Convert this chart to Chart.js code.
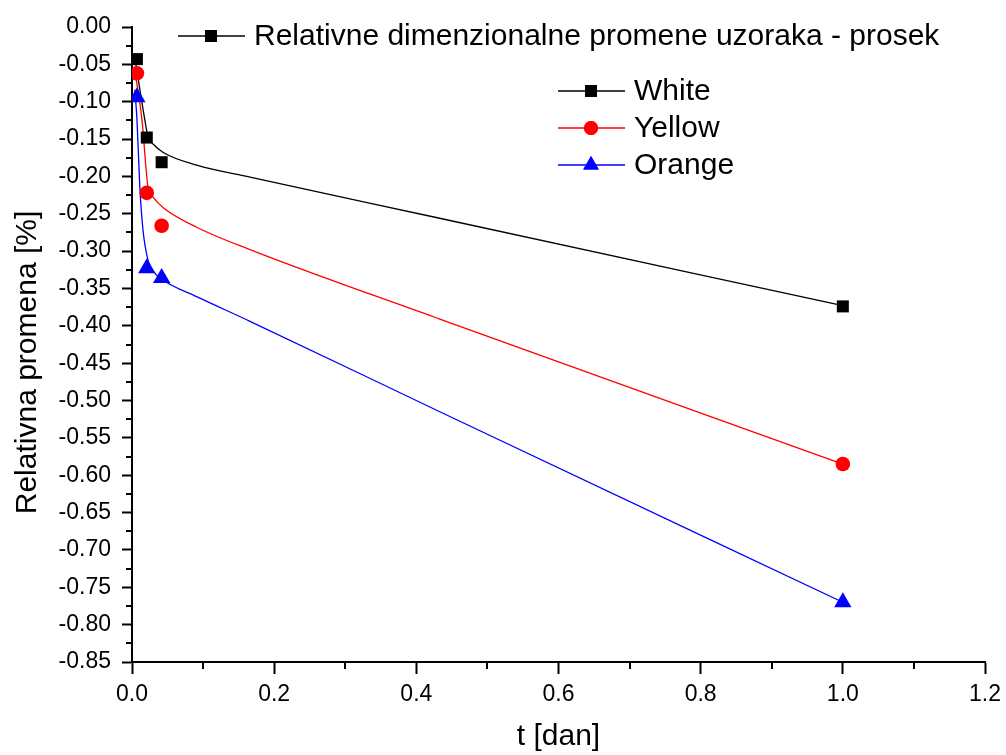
<!DOCTYPE html>
<html>
<head>
<meta charset="utf-8">
<script src="https://cdn.jsdelivr.net/npm/chart.js@4.4.0/dist/chart.umd.min.js"></script>
<style>
  html, body { margin: 0; padding: 0; background: #fff; }
  #wrap { width: 1006px; height: 755px; }
</style>
</head>
<body>
<div id="wrap"><canvas id="chart"></canvas></div>
<script>
// measured points (t in days)
const timeDays = [0.0069, 0.0208, 0.0417, 1.0];
const white  = [-0.043, -0.148, -0.181, -0.374];
const yellow = [-0.062, -0.222, -0.266, -0.585];
const orange = [-0.094, -0.323, -0.336, -0.770];

// fitted curves
const whiteFitX  = [0.004, 0.018, 0.0225, 0.03, 0.044, 0.091, 0.166, 0.423, 1.0];
const whiteFitY  = [-0.041, -0.124, -0.147, -0.157, -0.168, -0.185, -0.201, -0.254, -0.373];
const yellowFitX = [0.004, 0.014, 0.0225, 0.03, 0.044, 0.091, 0.166, 0.433, 1.0];
const yellowFitY = [-0.058, -0.124, -0.214, -0.228, -0.242, -0.268, -0.298, -0.391, -0.585];
const orangeFitX = [0.004, 0.007, 0.011, 0.0155, 0.0225, 0.03, 0.044, 0.091, 0.166, 0.433, 1.0];
const orangeFitY = [-0.084, -0.124, -0.214, -0.272, -0.312, -0.327, -0.339, -0.361, -0.394, -0.515, -0.770];

const seriesNames = ['White', 'Yellow', 'Orange'];
const legendTitle = 'Relativne dimenzionalne promene uzoraka - prosek';
const xTitle = 't [dan]';
const yTitle = 'Relativna promena [%]';

const xTickValues = [0, 0.2, 0.4, 0.6, 0.8, 1.0, 1.2];
const xMinorValues = [0.1, 0.3, 0.5, 0.7, 0.9, 1.1];
const yTickValues = [0, -0.05, -0.10, -0.15, -0.20, -0.25, -0.30, -0.35, -0.40, -0.45,
  -0.50, -0.55, -0.60, -0.65, -0.70, -0.75, -0.80, -0.85];
const yMinorValues = [-0.025, -0.075, -0.125, -0.175, -0.225, -0.275, -0.325, -0.375, -0.425,
  -0.475, -0.525, -0.575, -0.625, -0.675, -0.725, -0.775, -0.825];

const FONT = '"Liberation Sans", Arial, sans-serif';
const colors = ['#000000', '#ff0000', '#0000ff'];
const styles = ['rect', 'circle', 'triangle'];
const radii = [8.5, 7.3, 10];

const pts = (xs, ys) => xs.map((x, i) => ({ x, y: ys[i] }));

const markerSets = [white, yellow, orange].map((vals, i) => ({
  label: seriesNames[i],
  data: pts(timeDays, vals),
  showLine: false,
  pointStyle: styles[i],
  pointRadius: radii[i],
  pointBackgroundColor: colors[i],
  pointBorderWidth: 0,
  borderColor: colors[i],
}));

const fitSets = [[whiteFitX, whiteFitY], [yellowFitX, yellowFitY], [orangeFitX, orangeFitY]].map(([xs, ys], i) => ({
  label: seriesNames[i] + ' fit',
  data: pts(xs, ys),
  showLine: true,
  borderColor: colors[i],
  borderWidth: 1.3,
  pointRadius: 0,
  cubicInterpolationMode: 'monotone',
}));

const minorTicks = {
  id: 'minorTicks',
  afterDraw(chart) {
    const { ctx, scales: { x, y } } = chart;
    ctx.save();
    ctx.strokeStyle = '#000';
    ctx.lineWidth = 2;
    ctx.beginPath();
    xMinorValues.forEach(v => {
      const px = Math.round(x.getPixelForValue(v));
      ctx.moveTo(px, x.top);
      ctx.lineTo(px, x.top + 7);
    });
    yMinorValues.forEach(v => {
      const py = Math.round(y.getPixelForValue(v));
      ctx.moveTo(y.right, py);
      ctx.lineTo(y.right - 6, py);
    });
    ctx.stroke();
    ctx.restore();
  }
};

// y title sits a bit below the axis middle in the original
const yTitlePlugin = {
  id: 'yTitle',
  afterDraw(chart) {
    const ctx = chart.ctx;
    const y = chart.scales.y;
    ctx.save();
    ctx.translate(28, (y.top + y.bottom) / 2 + 18);
    ctx.rotate(-Math.PI / 2);
    ctx.fillStyle = '#000';
    ctx.font = '30px ' + FONT;
    ctx.textAlign = 'center';
    ctx.textBaseline = 'middle';
    ctx.fillText(yTitle, 0, 0);
    ctx.restore();
  }
};

function legendItem(ctx, x, y, color, style, r, text) {
  ctx.strokeStyle = color;
  ctx.lineWidth = 1.3;
  ctx.beginPath();
  ctx.moveTo(x, y);
  ctx.lineTo(x + 67, y);
  ctx.stroke();
  ctx.fillStyle = color;
  Chart.helpers.drawPoint(ctx, { pointStyle: style, radius: r, rotation: 0, borderWidth: 0 }, x + 33, y);
  ctx.fill();
  ctx.fillStyle = '#000';
  ctx.font = '30px ' + FONT;
  ctx.textBaseline = 'middle';
  ctx.textAlign = 'left';
  ctx.fillText(text, x + 76, y + 1);
}

const legends = {
  id: 'legends',
  afterDraw(chart) {
    const ctx = chart.ctx;
    ctx.save();
    legendItem(ctx, 178, 36, '#000', 'rect', 8.5, legendTitle);
    seriesNames.forEach((name, i) => {
      legendItem(ctx, 558, 91 + i * 37, colors[i], styles[i], [8.5, 7, 9][i], name);
    });
    ctx.restore();
  }
};

new Chart(document.getElementById('chart'), {
  type: 'scatter',
  data: { datasets: [...markerSets, ...fitSets] },
  options: {
    responsive: true,
    maintainAspectRatio: false,
    animation: false,
    layout: { padding: { top: 27, right: 21, left: 0, bottom: 0 } },
    plugins: {
      legend: { display: false },
      tooltip: { enabled: false },
    },
    scales: {
      x: {
        type: 'linear',
        min: 0,
        max: 1.2,
        afterBuildTicks: s => { s.ticks = xTickValues.map(v => ({ value: v })); },
        afterFit: s => { s.height = 93; s.paddingLeft = 0; s.paddingRight = 0; },
        ticks: {
          color: '#000',
          font: { family: FONT, size: 23 },
          padding: 7,
          maxRotation: 0,
          callback: v => v.toFixed(1),
        },
        grid: { drawOnChartArea: false, drawTicks: true, tickLength: 12, tickColor: '#000', tickWidth: 2 },
        border: { color: '#000', width: 2 },
        title: {
          display: true,
          text: xTitle,
          color: '#000',
          font: { family: FONT, size: 30 },
          padding: { top: 0, bottom: 0 },
        },
      },
      y: {
        type: 'linear',
        min: -0.85,
        max: 0,
        afterBuildTicks: s => { s.ticks = yTickValues.map(v => ({ value: v })); },
        afterFit: s => { s.width = 132; },
        ticks: {
          color: '#000',
          font: { family: FONT, size: 23 },
          padding: 11,
          callback: v => v.toFixed(2),
        },
        grid: { drawOnChartArea: false, drawTicks: true, tickLength: 10, tickColor: '#000', tickWidth: 2 },
        border: { color: '#000', width: 2 },
        title: { display: false },
      },
    },
  },
  plugins: [minorTicks, yTitlePlugin, legends],
});
</script>
</body>
</html>
